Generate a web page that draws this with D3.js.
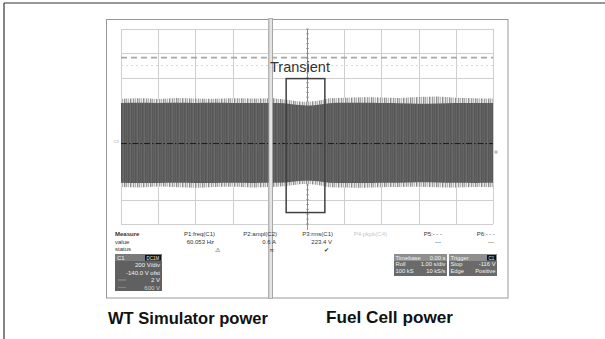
<!DOCTYPE html>
<html>
<head>
<meta charset="utf-8">
<script src="https://cdn.jsdelivr.net/npm/d3@7"></script>
<style>
  body { margin: 0; background: #fff; }
  svg { display: block; }
  text { font-family: "Liberation Sans", Arial, sans-serif; }
</style>
</head>
<body>
<svg width="605" height="339"></svg>
<script>
// scope settings
const timePerDiv = 1.0;      // Roll 1.00 s/div
const voltsPerDiv = 200;     // 200 V/div
const offsetV = -140;        // -140.0 V ofst

// envelope of the C1 trace (s, V)
const times    = [0, 0.5, 1, 1.5, 2, 2.5, 3, 3.5, 4, 4.4, 4.6, 4.8, 5, 5.2, 5.4, 5.6, 6, 6.5, 7, 7.5, 8, 8.5, 9, 9.5, 10];
const bodyTop  = [332, 334, 333, 335, 333, 334, 332, 333, 333, 330, 322, 316, 313, 315, 322, 331, 334, 335, 333, 331, 327, 329, 332, 333, 332];
const bodyBot  = [-322, -324, -323, -322, -324, -323, -322, -323, -322, -319, -313, -307, -305, -308, -314, -321, -323, -324, -322, -321, -318, -320, -322, -323, -322];
const spikeTop = [368, 372, 366, 374, 370, 368, 371, 369, 372, 362, 354, 346, 344, 348, 358, 372, 376, 380, 378, 374, 382, 386, 376, 372, 370];
const spikeBot = [-356, -360, -352, -358, -362, -356, -354, -360, -356, -350, -342, -334, -332, -336, -346, -358, -360, -362, -358, -356, -354, -358, -360, -356, -358];

const refLevels = [705, 640];           // dashed / dotted markers
const transientTime = [4.44, 5.48];
const transientVolts = [-566, 533];
const panelSplit = 4.03;                // s, source switch-over
const panelLabels = ["WT Simulator power", "Fuel Cell power"];

const measureNames  = ["P1:freq(C1)", "P2:ampl(C2)", "P3:rms(C1)", "P4:pkpk(C4)", "P5:- - -", "P6:- - -"];
const measureValues = ["60.053 Hz", "0.6 A", "223.4 V", "", "---", "---"];
const measureStatus = ["\u26A0", "\u03C0", "\u2714", "", "", ""];
const chanLines  = ["200 V/div", "-140.0 V ofst", "2 V", "600 V"];
const tbLines    = [["Timebase", "0.00 s"], ["Roll", "1.00 s/div"], ["100 kS", "10 kS/s"]];
const trigLines  = [["Trigger", ""], ["Stop", "-116 V"], ["Edge", "Positive"]];

const svg = d3.select("svg");

// grid area
const gx0 = 121, gx1 = 493, gy0 = 29, gy1 = 224;
const x = d3.scaleLinear().domain([0, 10 * timePerDiv]).range([gx0, gx1]);
const centerV = -offsetV;
const y = d3.scaleLinear()
  .domain([centerV - 4 * voltsPerDiv, centerV + 4 * voltsPerDiv])
  .range([gy1, gy0]);

// outer frame of the figure
svg.append("line").attr("x1", 4).attr("y1", 3).attr("x2", 605).attr("y2", 3)
  .attr("stroke", "#333").attr("stroke-width", 1.2);
svg.append("line").attr("x1", 4).attr("y1", 3).attr("x2", 4).attr("y2", 339)
  .attr("stroke", "#333").attr("stroke-width", 1.2);

// the two panel boxes
const xs = x(panelSplit);
svg.append("rect").attr("x", 106.5).attr("y", 19.5).attr("width", xs - 2 - 106.5).attr("height", 278.5)
  .attr("fill", "none").attr("stroke", "#999");
svg.append("rect").attr("x", xs + 1.5).attr("y", 19.5).attr("width", 508 - xs - 1.5).attr("height", 278.5)
  .attr("fill", "none").attr("stroke", "#999");

// patterns for the trace (texture only)
const defs = svg.append("defs");
const spkCols = ["#8a8a8a", "#c9c9c9", "#e6e6e6", "#9d9d9d", "#d8d8d8", "#b5b5b5", "#efefef",
                 "#8f8f8f", "#cfcfcf", "#a9a9a9", "#e0e0e0", "#bcbcbc", "#f2f2f2"];
const pSpk = defs.append("pattern").attr("id", "spk").attr("patternUnits", "userSpaceOnUse")
  .attr("width", spkCols.length).attr("height", 6);
spkCols.forEach((c, i) => pSpk.append("rect").attr("x", i).attr("width", 1).attr("height", 6).attr("fill", c));
const bodyCols = ["#5a5a5a", "#646464", "#565656", "#5f5f5f", "#6a6a6a", "#585858", "#616161"];
const pBody = defs.append("pattern").attr("id", "body").attr("patternUnits", "userSpaceOnUse")
  .attr("width", bodyCols.length).attr("height", 4);
bodyCols.forEach((c, i) => pBody.append("rect").attr("x", i).attr("width", 1).attr("height", 4).attr("fill", c));

// grid
const grid = svg.append("g").attr("stroke", "#cfcfcf").attr("stroke-width", 1);
grid.selectAll("line.v").data(d3.range(0, 11).map(d => d * timePerDiv)).enter().append("line")
  .attr("x1", d => Math.round(x(d)) + 0.5).attr("x2", d => Math.round(x(d)) + 0.5)
  .attr("y1", gy0).attr("y2", gy1);
grid.selectAll("line.h").data(d3.range(0, 9).map(d => y.domain()[0] + d * voltsPerDiv)).enter().append("line")
  .attr("y1", d => Math.round(y(d)) + 0.5).attr("y2", d => Math.round(y(d)) + 0.5)
  .attr("x1", gx0).attr("x2", gx1);

// reference levels
svg.append("line").attr("x1", gx0).attr("x2", gx1).attr("y1", y(refLevels[0])).attr("y2", y(refLevels[0]))
  .attr("stroke", "#a8a8a8").attr("stroke-width", 1.6).attr("stroke-dasharray", "6,4");
svg.append("line").attr("x1", gx0).attr("x2", gx1).attr("y1", y(refLevels[1])).attr("y2", y(refLevels[1]))
  .attr("stroke", "#d8d8d8").attr("stroke-width", 1).attr("stroke-dasharray", "2,3");

// center vertical axis with minor ticks
const cx = Math.round(x(5 * timePerDiv)) + 0.5;
svg.append("line").attr("x1", cx).attr("x2", cx).attr("y1", gy0).attr("y2", gy1 + 6)
  .attr("stroke", "#777").attr("stroke-width", 0.8);
svg.selectAll("line.tk").data(d3.range(0, 41).map(d => y.domain()[0] + d * voltsPerDiv / 5)).enter().append("line")
  .attr("x1", cx - 1.5).attr("x2", cx + 1.5)
  .attr("y1", d => y(d)).attr("y2", d => y(d))
  .attr("stroke", "#888").attr("stroke-width", 0.7);

// trace envelope
const pts = times.map((t, i) => ({ t, bt: bodyTop[i], bb: bodyBot[i], st: spikeTop[i], sb: spikeBot[i] }));
const outer = d3.area().x(d => x(d.t)).y0(d => y(d.sb)).y1(d => y(d.st)).curve(d3.curveMonotoneX);
const inner = d3.area().x(d => x(d.t)).y0(d => y(d.bb)).y1(d => y(d.bt)).curve(d3.curveMonotoneX);
svg.append("path").datum(pts).attr("d", outer).attr("fill", "url(#spk)");
svg.append("path").datum(pts).attr("d", inner).attr("fill", "url(#body)");

// ground level (dash-dot)
svg.append("line").attr("x1", gx0).attr("x2", gx1).attr("y1", y(0)).attr("y2", y(0))
  .attr("stroke", "#1a1a1a").attr("stroke-width", 1).attr("stroke-dasharray", "6,2,1.5,2");
svg.append("text").attr("x", gx0 - 2).attr("y", y(0) - 1).attr("text-anchor", "end")
  .attr("font-size", 4).attr("fill", "#999").text("C1");
svg.append("rect").attr("x", gx1 + 1.5).attr("y", y(-70) - 1.5).attr("width", 3).attr("height", 3)
  .attr("fill", "#bbb");

// panel divider (double gray bar)
svg.append("rect").attr("x", xs - 2).attr("y", 18.5).attr("width", 3.5).attr("height", 280)
  .attr("fill", "#e4e4e4").attr("stroke", "#a0a0a0").attr("stroke-width", 0.8);

// transient box
svg.append("rect")
  .attr("x", x(transientTime[0])).attr("y", y(transientVolts[1]))
  .attr("width", x(transientTime[1]) - x(transientTime[0]))
  .attr("height", y(transientVolts[0]) - y(transientVolts[1]))
  .attr("fill", "none").attr("stroke", "#404040").attr("stroke-width", 1.5);
svg.append("text").attr("x", 270).attr("y", 72).attr("font-size", 14.5).attr("fill", "#333")
  .text("Transient");

// measurement table
const colRight = [215, 277, 333, 387, 442, 495];
const rowY = [235.5, 243.5, 251];
const mt = svg.append("g").attr("font-size", 6).attr("fill", "#333");
mt.append("text").attr("x", 115).attr("y", rowY[0]).attr("font-weight", "bold").text("Measure");
mt.append("text").attr("x", 115).attr("y", rowY[1]).text("value");
mt.append("text").attr("x", 115).attr("y", rowY[2]).text("status");
mt.selectAll("text.n").data(measureNames).enter().append("text")
  .attr("x", (d, i) => colRight[i]).attr("y", rowY[0]).attr("text-anchor", "end")
  .attr("fill", (d, i) => i === 3 ? "#c8c8c8" : "#333").text(d => d);
mt.selectAll("text.v").data(measureValues).enter().append("text")
  .attr("x", (d, i) => colRight[i] - 1).attr("y", rowY[1]).attr("text-anchor", "end").text(d => d);
mt.selectAll("text.s").data(measureStatus).enter().append("text")
  .attr("x", (d, i) => colRight[i] + [5, -3, -4, 0, 0, 0][i]).attr("y", rowY[2] + 0.5).attr("text-anchor", "end")
  .attr("font-family", "DejaVu Sans").text(d => d);

// channel descriptor C1
const c1 = svg.append("g");
c1.append("rect").attr("x", 115).attr("y", 254).attr("width", 47).attr("height", 37).attr("fill", "#606060");
c1.append("rect").attr("x", 115).attr("y", 254).attr("width", 47).attr("height", 7).attr("fill", "#7a7a7a");
c1.append("text").attr("x", 117).attr("y", 260).attr("font-size", 6).attr("fill", "#f0f0f0").text("C1");
c1.append("rect").attr("x", 145).attr("y", 255).attr("width", 16).attr("height", 5.5).attr("fill", "#111");
c1.append("text").attr("x", 153).attr("y", 259.6).attr("font-size", 4.5).attr("fill", "#eee")
  .attr("text-anchor", "middle").text("DC1M");
c1.selectAll("text.l").data(chanLines).enter().append("text")
  .attr("x", 160).attr("y", (d, i) => 267 + i * 7.5).attr("text-anchor", "end")
  .attr("font-size", 6).attr("fill", (d, i) => i === 3 ? "#cfcfcf" : "#f2f2f2").text(d => d);
c1.append("line").attr("x1", 118).attr("x2", 126).attr("y1", 280).attr("y2", 280).attr("stroke", "#bbb").attr("stroke-width", 0.6);
c1.append("line").attr("x1", 118).attr("x2", 126).attr("y1", 287.5).attr("y2", 287.5).attr("stroke", "#999").attr("stroke-width", 0.6);

// timebase / trigger descriptors
function infoBox(x0, w, lines, tag) {
  const g = svg.append("g");
  g.append("rect").attr("x", x0).attr("y", 254).attr("width", w).attr("height", 22).attr("fill", "#6a6a6a");
  g.append("rect").attr("x", x0).attr("y", 254).attr("width", w).attr("height", 7).attr("fill", "#8e8e8e");
  lines.forEach((l, i) => {
    g.append("text").attr("x", x0 + 1.5).attr("y", 259.8 + i * 6.5).attr("font-size", 5.8)
      .attr("fill", "#f2f2f2").text(l[0]);
    g.append("text").attr("x", x0 + w - 1.5).attr("y", 259.8 + i * 6.5).attr("font-size", 5.8)
      .attr("fill", "#f2f2f2").attr("text-anchor", "end").text(l[1]);
  });
  if (tag) {
    g.append("rect").attr("x", x0 + w - 10).attr("y", 255).attr("width", 9).attr("height", 5.5).attr("fill", "#111");
    g.append("text").attr("x", x0 + w - 5.5).attr("y", 259.6).attr("font-size", 4.5).attr("fill", "#eee")
      .attr("text-anchor", "middle").text(tag);
  }
}
infoBox(394, 53, tbLines, null);
infoBox(449, 48, trigLines, "C1");

// captions under the panels
svg.append("text").attr("x", 108).attr("y", 324).attr("font-size", 16.5).attr("font-weight", "bold")
  .attr("fill", "#111").attr("textLength", 160).attr("lengthAdjust", "spacingAndGlyphs").text(panelLabels[0]);
svg.append("text").attr("x", 326).attr("y", 323).attr("font-size", 16.5).attr("font-weight", "bold")
  .attr("fill", "#111").attr("textLength", 127).attr("lengthAdjust", "spacingAndGlyphs").text(panelLabels[1]);
</script>
</body>
</html>
